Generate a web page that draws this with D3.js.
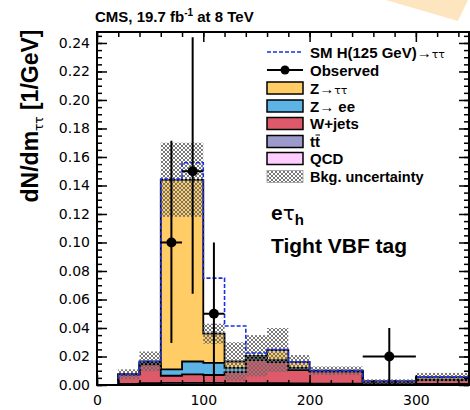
<!DOCTYPE html>
<html><head><meta charset="utf-8">
<script src="https://cdn.jsdelivr.net/npm/d3@7"></script>
<style>html,body{margin:0;padding:0;background:#fff;}svg{display:block;}</style>
</head><body>
<svg id="c" width="470" height="410"></svg>
<script>
// ---- data ----
const binEdges = [20,40,60,80,100,120,140,160,180,200,250,300,350];
const qcd    = [0.0002,0.0003,0.0003,0.0003,0.0003,0.0003,0.0003,0.0003,0.0003,0.0003,0.0002,0.0002];
const ttbar  = [0.0005,0.0010,0.0012,0.0012,0.0012,0.0010,0.0010,0.0010,0.0008,0.0007,0.0004,0.0005];
const wjets  = [0.0068,0.0132,0.0050,0.0060,0.0055,0.0077,0.0162,0.0147,0.0094,0.0084,0.0017,0.0028];
const zee    = [0.0000,0.0010,0.0045,0.0090,0.0085,0.0030,0.0015,0.0015,0.0015,0.0003,0.0001,0.0002];
const ztt    = [0.0000,0.0010,0.1330,0.1275,0.0205,0.0045,0.0015,0.0070,0.0040,0.0003,0.0001,0.0018];
const bkgUnc = [0.0035,0.0070,0.0260,0.0260,0.0070,0.0135,0.0145,0.0155,0.0050,0.0030,0.0015,0.0030];
const signal = [0.0000,0.0000,0.0005,0.0120,0.0390,0.0249,0.0020,0.0003,0.0002,0.0001,0.0000,0.0000];
const obsX    = [70,90,110,275];
const obsXErr = [10,10,10,25];
const obsY    = [0.10,0.15,0.05,0.02];
const obsErrLo= [0.0705,0.086,0.05,0.02];
const obsErrHi= [0.0714,0.094,0.05,0.02];
const yTicks = [0,0.02,0.04,0.06,0.08,0.10,0.12,0.14,0.16,0.18,0.20,0.22,0.24];
const xTicks = [0,100,200,300];
const legendLabels = ["SM H(125 GeV)\u2192","Observed","Z\u2192","Z\u2192 ee","W+jets","t","QCD","Bkg. uncertainty"];

const colors = {qcd:"#ffccff", tt:"#9c9acc", w:"#de5a6a", zee:"#5bb3e6", ztt:"#ffcc66"};

// ---- setup ----
const svg = d3.select("#c");
const L=97,R=469,T=32,B=385;
const x = d3.scaleLinear().domain([0,350]).range([L,R]);
const y = d3.scaleLinear().domain([0,0.2477]).range([B,T]);

svg.append("polygon").attr("points","386,0 458,21 468,0").attr("fill","#fde6bf");

const defs = svg.append("defs");
const pat = defs.append("pattern").attr("id","hatch").attr("patternUnits","userSpaceOnUse")
  .attr("width",4).attr("height",4);
pat.append("path").attr("d","M0,0L4,4M4,0L0,4M-1,3L1,5M3,-1L5,1M-1,1L1,-1M3,5L5,3")
  .attr("stroke","#6a6a6a").attr("stroke-width",0.9).attr("fill","none");
defs.append("clipPath").attr("id","pc").append("rect").attr("x",L).attr("y",T).attr("width",R-L).attr("height",B-T);

const g = svg.append("g").attr("clip-path","url(#pc)");
const nb = binEdges.length-1;
const comps = [qcd, ttbar, wjets, zee, ztt];
const compColors = [colors.qcd, colors.tt, colors.w, colors.zee, colors.ztt];
const cum = [];
let base = new Array(nb).fill(0);
comps.forEach((c,k)=>{
  const top = base.map((b,i)=>b+c[i]);
  cum.push({lo:base.slice(), hi:top});
  base = top;
});
const total = base;

function stepPts(vals){
  const p=[];
  for(let i=0;i<nb;i++){p.push([binEdges[i],vals[i]]);p.push([binEdges[i+1],vals[i]]);}
  return p;
}
const area = d3.area().x(d=>x(d[0])).y0(d=>y(d[1])).y1(d=>y(d[2]));
cum.forEach((c,k)=>{
  const pts=[];
  for(let i=0;i<nb;i++){pts.push([binEdges[i],c.lo[i],c.hi[i]]);pts.push([binEdges[i+1],c.lo[i],c.hi[i]]);}
  g.append("path").attr("d",area(pts)).attr("fill",compColors[k]).attr("stroke","none");
});
const line = d3.line().x(d=>x(d[0])).y(d=>y(d[1]));
cum.forEach((c,k)=>{
  const pts=[[binEdges[0],0]].concat(stepPts(c.hi)).concat([[binEdges[nb],0]]);
  g.append("path").attr("d",line(pts)).attr("fill","none").attr("stroke","#000").attr("stroke-width",1.8);
});
for(let i=0;i<nb;i++){
  g.append("rect").attr("x",x(binEdges[i])).attr("width",x(binEdges[i+1])-x(binEdges[i]))
   .attr("y",y(total[i]+bkgUnc[i])).attr("height",y(total[i]-bkgUnc[i])-y(total[i]+bkgUnc[i]))
   .attr("fill","url(#hatch)");
}
const sigTop = total.map((t,i)=>t+signal[i]);
g.append("path").attr("d",line([[binEdges[0],0]].concat(stepPts(sigTop)))).attr("fill","none")
  .attr("stroke","#1a2ee6").attr("stroke-width",1.6).attr("stroke-dasharray","4,2");
obsX.forEach((xv,i)=>{
  g.append("line").attr("x1",x(xv-obsXErr[i])).attr("x2",x(xv+obsXErr[i])).attr("y1",y(obsY[i])).attr("y2",y(obsY[i]))
   .attr("stroke","#000").attr("stroke-width",2);
  g.append("line").attr("x1",x(xv)).attr("x2",x(xv)).attr("y1",y(obsY[i]-obsErrLo[i])).attr("y2",y(obsY[i]+obsErrHi[i]))
   .attr("stroke","#000").attr("stroke-width",2);
  g.append("circle").attr("cx",x(xv)).attr("cy",y(obsY[i])).attr("r",5).attr("fill","#000");
});

// ---- axes ----
const tickFont = "DejaVu Sans, sans-serif";
function styleAxis(sel){ sel.select(".domain").remove(); sel.selectAll("line").attr("stroke","#000").attr("stroke-width",1.5); }
const yMinor = d3.range(0,0.2477,0.005);
const xMinor = d3.range(0,351,20);
svg.append("g").attr("transform",`translate(${L},0)`).call(d3.axisLeft(y).tickValues(yMinor).tickSize(-5).tickFormat("")).call(styleAxis);
svg.append("g").attr("transform",`translate(${L},0)`).call(d3.axisLeft(y).tickValues(yTicks).tickSize(-10).tickPadding(7).tickFormat(d3.format(".2f")))
  .call(styleAxis).call(s=>s.selectAll("text").attr("font-family",tickFont).attr("font-size",14).attr("fill","#000"));
svg.append("g").attr("transform",`translate(${R},0)`).call(d3.axisRight(y).tickValues(yMinor).tickSize(-5).tickFormat("")).call(styleAxis);
svg.append("g").attr("transform",`translate(${R},0)`).call(d3.axisRight(y).tickValues(yTicks).tickSize(-10).tickFormat("")).call(styleAxis);
svg.append("g").attr("transform",`translate(0,${B})`).call(d3.axisBottom(x).tickValues(xMinor).tickSize(-5).tickFormat("")).call(styleAxis);
svg.append("g").attr("transform",`translate(0,${B})`).call(d3.axisBottom(x).tickValues(xTicks).tickSize(-10).tickPadding(10).tickFormat(d3.format("d")))
  .call(styleAxis).call(s=>s.selectAll("text").attr("font-family",tickFont).attr("font-size",14).attr("fill","#000"));
svg.append("g").attr("transform",`translate(0,${T})`).call(d3.axisTop(x).tickValues(xMinor).tickSize(-5).tickFormat("")).call(styleAxis);
svg.append("g").attr("transform",`translate(0,${T})`).call(d3.axisTop(x).tickValues(xTicks).tickSize(-10).tickFormat("")).call(styleAxis);
svg.append("rect").attr("x",L).attr("y",T).attr("width",R-L).attr("height",B-T).attr("fill","none").attr("stroke","#000").attr("stroke-width",2);

// ---- texts ----
const bold = "Liberation Sans, Arial, Helvetica, sans-serif";
const greek = "DejaVu Sans, sans-serif";
const t = svg.append("text").attr("x",95).attr("y",22).attr("font-family",bold).attr("font-weight","bold").attr("font-size",15);
t.append("tspan").text("CMS, 19.7 fb");
t.append("tspan").attr("font-size",10).attr("dy",-6).text("-1");
t.append("tspan").attr("dy",6).text(" at 8 TeV");

const yl = svg.append("text").attr("transform","translate(38,116) rotate(-90)").attr("text-anchor","middle")
  .attr("font-family",bold).attr("font-weight","bold").attr("font-size",23);
yl.append("tspan").text("dN/dm");
yl.append("tspan").attr("font-size",12).attr("font-family",greek).attr("font-weight","normal").attr("dy",5).text("\u03c4\u03c4");
yl.append("tspan").attr("dy",-5).text(" [1/GeV]");

const ch = svg.append("text").attr("x",271).attr("y",220).attr("font-family",bold).attr("font-weight","bold").attr("font-size",21);
ch.append("tspan").text("e");
ch.append("tspan").attr("font-family",greek).attr("font-weight","normal").attr("font-size",20).text("\u03c4");
ch.append("tspan").attr("font-size",15).attr("dy",5).text("h");
svg.append("text").attr("x",271).attr("y",253).attr("font-family",bold).attr("font-weight","bold").attr("font-size",21).text("Tight VBF tag");

// ---- legend ----
const lx=267, lw=36, tx=310, rowY=[52,70,88,106,123.5,141.5,158.5,176.5];
const lg = svg.append("g").attr("font-family",bold).attr("font-weight","bold").attr("font-size",15);
lg.append("line").attr("x1",lx).attr("x2",lx+lw).attr("y1",rowY[0]).attr("y2",rowY[0]).attr("stroke","#1a2ee6").attr("stroke-width",1.6).attr("stroke-dasharray","4,2");
lg.append("line").attr("x1",lx).attr("x2",lx+lw).attr("y1",rowY[1]).attr("y2",rowY[1]).attr("stroke","#000").attr("stroke-width",2);
lg.append("circle").attr("cx",lx+lw/2).attr("cy",rowY[1]).attr("r",4.5).attr("fill","#000");
const swCols=[colors.ztt,colors.zee,colors.w,colors.tt,colors.qcd];
swCols.forEach((c,i)=>{
  lg.append("rect").attr("x",lx).attr("y",rowY[i+2]-6).attr("width",lw).attr("height",12).attr("fill",c).attr("stroke","#000").attr("stroke-width",1.5);
});
lg.append("rect").attr("x",lx).attr("y",rowY[7]-6).attr("width",lw).attr("height",12).attr("fill","url(#hatch)").attr("stroke","#999").attr("stroke-width",0.8);
legendLabels.forEach((s,i)=>{
  const te = lg.append("text").attr("x",tx).attr("y",rowY[i]+5.5);
  te.append("tspan").text(s);
  if(i===0||i===2) te.append("tspan").attr("font-family",greek).attr("font-weight","normal").attr("font-size",11).text("\u03c4\u03c4");
  if(i===5){ te.append("tspan").text("t"); }
  if(i===7) te.attr("font-size",14.5);
});
lg.append("line").attr("x1",tx+5.5).attr("x2",tx+10).attr("y1",rowY[5]-6.5).attr("y2",rowY[5]-6.5).attr("stroke","#000").attr("stroke-width",1);
</script>
</body></html>
